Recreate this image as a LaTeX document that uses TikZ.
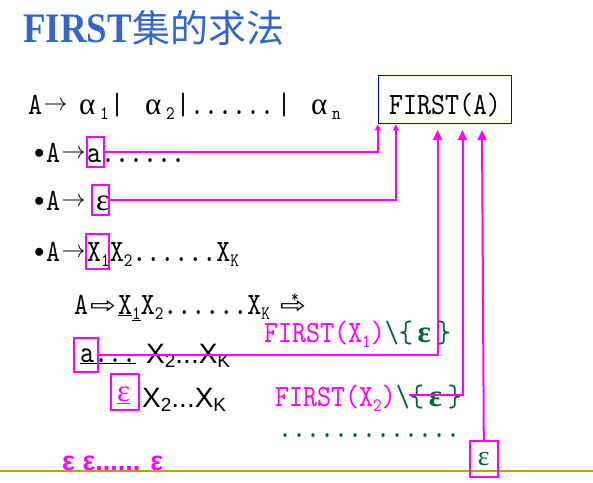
\documentclass[tikz,border=0pt]{standalone}
\usepackage{fontspec}
\usepackage{graphicx}
\setmainfont{Liberation Serif}
\newfontfamily\simfont{lmmono10-regular.otf}[FakeStretch=0.86]
\newfontfamily\titlefont{Liberation Serif}[FakeStretch=0.88]
\newfontfamily\cjk{Noto Sans CJK SC}
\newfontfamily\arial{Liberation Sans}
\newfontfamily\dejavu{DejaVu Sans}
\usetikzlibrary{arrows.meta, calc, positioning}
\definecolor{titleblue}{RGB}{51,102,204}
\definecolor{boxblue}{RGB}{0,0,255}
\definecolor{linkpink}{RGB}{255,0,255}
\definecolor{darkgreen}{RGB}{0,102,51}
\definecolor{gold}{RGB}{204,153,0}

% thin arrow, hollow arrow, bullet, greek, lowered index
\newcommand\rarr{\makebox[27pt]{\resizebox{24pt}{!}{\fontsize{22}{22}\selectfont\raisebox{3pt}{$\rightarrow$}}}}
\newcommand\hollow{\makebox[30pt]{\raisebox{1pt}{\resizebox{26pt}{13pt}{\dejavu ⇨}}}}
\newcommand\bul{\makebox[14pt]{\fontsize{20}{20}\selectfont\raisebox{4pt}{$\bullet$}}}
\newcommand\gr[1]{{\rmfamily #1}}
\newcommand\lowsub[1]{\raisebox{-5pt}{\fontsize{19}{19}\selectfont #1}}
\newcommand\arsub[1]{\raisebox{-4pt}{\fontsize{19}{19}\selectfont #1}}
\newcommand\noteps{\textcolor{darkgreen}{\textbackslash\{\hspace{5pt}{\rmfamily\bfseries ε}\hspace{6pt}\}}}

\tikzset{
	sim/.style={font=\simfont\fontsize{31}{31}\selectfont, inner sep=0pt, anchor=base west},
	subs/.style={font=\simfont\fontsize{19}{19}\selectfont, inner sep=0pt, anchor=base west},
	sans/.style={font=\arial\fontsize{28}{28}\selectfont, inner sep=0pt, anchor=base west},
	hl/.style={draw=linkpink, line width=2pt, inner sep=0pt},
	link/.style={draw=linkpink, line width=2pt},
	smalltip/.style={-{Triangle[width=6pt,length=6pt]}},
	bigtip/.style={-{Triangle[width=9pt,length=10pt]}},
}

\begin{document}
\begin{tikzpicture}[x=1pt,y=-1pt]
	\useasboundingbox (0,0) rectangle (593,482);
	\node(title) [anchor=base west, inner sep=0pt, text=titleblue] at (23,42)
	{\titlefont\bfseries\fontsize{42}{42}\selectfont FIRST{\cjk\mdseries\fontsize{38}{38}\selectfont 集的求法}};
	
	%----------------------------------------------------------------
	\node(l1a) [sim] at (28,114) {A\rarr};
	\node(al1) [sim] at (79,114) {\gr{α}};
	\node(s1) [subs] at (100,119) {1};
	\node(bar1) [sim] at (110,114) {|};
	\node(al2) [sim] at (145,114) {\gr{α}};
	\node(s2) [subs] at (166,119) {2};
	\node(bar2) [sim] at (176,114) {|......};
	\node(bar3) [sim] at (277,114) {|};
	\node(al3) [sim] at (311,114) {\gr{α}};
	\node(sn) [subs] at (332,119) {n};
	
	\node(firsta) [draw=boxblue, line width=1.3pt, minimum width=133pt, minimum height=48pt,
	inner sep=0pt, text height=28.6pt, text depth=0pt, font=\simfont\fontsize{31}{31}\selectfont]
	at (445,99.7) {FIRST(A)};
	
	%----------------------------------------------------------------
	\node(r1) [sim] at (32,162) {\bul A\rarr a......};
	\node(r2) [sim] at (32,210) {\bul A\rarr\hspace{9pt}\gr{ε}};
	\node(r3) [sim] at (32,261) {\bul A\rarr X\lowsub{1}X\lowsub{2}......X\lowsub{K}};
	\node(r4) [sim] at (74,314) {A\hollow\underline{X}\lowsub{\underline{1}}X\lowsub{2}......X\lowsub{K}};
	\node(star) [sim] at (278,314) {\rlap{\hspace{13pt}\raisebox{12pt}{\fontsize{17}{17}\selectfont *}}\hollow};
	
	\node(fx1) [sim, text=linkpink] at (264,342) {FIRST(X\lowsub{1})\noteps};
	\node(r5a) [sim] at (80,362) {\underline{a...}};
	\node(r5b) [sans] at (146,363) {X\arsub{2}...X\arsub{K}};
	\node(r6a) [sim, text=linkpink] at (117,401) {\underline{\gr{ε}}};
	\node(r6b) [sans] at (142,407) {X\arsub{2}...X\arsub{K}};
	\node(fx2) [sim, text=linkpink] at (275,406) {FIRST(X\lowsub{2})\noteps};
	\node(dots) [sim, text=darkgreen] at (278,437) {.............};
	\node(alleps) [font=\arial\bfseries\fontsize{27}{27}\selectfont, text=linkpink, inner sep=0pt, anchor=base west]
	at (62,470) {ε ε...... ε};
	
	%----------------------------------------------------------------
	\draw [gold, line width=2.2pt] (0,471) -- (593,471);
	
	\node(boxa) [hl, minimum width=17pt, minimum height=30pt] at (95,151.5) {};
	\node(boxeps) [hl, minimum width=17pt, minimum height=30pt] at (100.8,200) {};
	\node(boxx) [hl, minimum width=23pt, minimum height=35pt] at (97.8,251.5) {};
	\node(boxa2) [hl, minimum width=24pt, minimum height=34pt] at (85.7,354.7) {};
	\node(boxeps2) [hl, minimum width=28pt, minimum height=36pt] at (125,391.8) {};
	\node(boxend) [hl, minimum width=28pt, minimum height=36pt, text=darkgreen,
	font=\fontsize{28}{28}\selectfont] at (483.8,458.8) {ε};
	
	\coordinate (tip1) at (437.5,130);
	\coordinate (tip2) at (462.5,130);
	\coordinate (tip3) at (482,130);
	\coordinate (x2start) at (409,395);
	
	\draw [link, smalltip] (boxa.east) -| (firsta.south west);
	\draw [link, smalltip] (boxeps.east) -| ($(firsta.south west)+(18,0)$);
	\draw [link, bigtip] (boxa2.east) -| (tip1);
	\draw [link, bigtip] (x2start) -| (tip2);
	\draw [link, bigtip] (boxend.north) -- (tip3);
\end{tikzpicture}
\end{document}
